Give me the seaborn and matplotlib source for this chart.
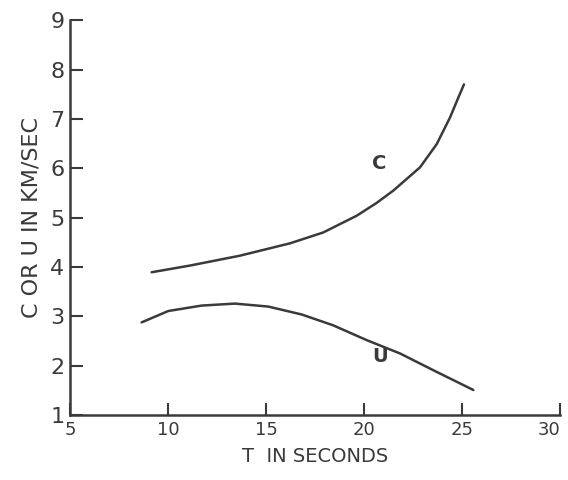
import matplotlib
matplotlib.use("Agg")
import matplotlib.pyplot as plt
import seaborn as sns
import pandas as pd

# Phase velocity C and group velocity U vs period T
c_period = [9.17, 11.12, 13.67, 16.22, 17.92, 19.63, 20.65, 21.50, 22.86, 23.71, 24.39, 24.81, 25.10]
c_speed = [3.895, 4.03, 4.23, 4.48, 4.70, 5.04, 5.30, 5.55, 6.02, 6.49, 7.03, 7.43, 7.70]

u_period = [8.66, 10.02, 11.72, 13.42, 15.12, 16.82, 18.43, 20.14, 21.84, 23.54, 25.58]
u_speed = [2.88, 3.11, 3.22, 3.26, 3.20, 3.04, 2.82, 2.52, 2.25, 1.91, 1.51]

x_ticks = [5, 10, 15, 20, 25, 30]
x_tick_labels = ["5", "10", "15", "20", "25", "30"]
y_ticks = [1, 2, 3, 4, 5, 6, 7, 8, 9]
y_tick_labels = ["1", "2", "3", "4", "5", "6", "7", "8", "9"]

sns.set_theme(style="ticks")
plt.rcParams["font.family"] = ["DejaVu Sans"]

ink = "#3a3a3a"

c_df = pd.DataFrame({"T": c_period, "V": c_speed})
u_df = pd.DataFrame({"T": u_period, "V": u_speed})

fig = plt.figure(figsize=(5.68, 4.8), dpi=100)
ax = fig.add_axes([0.123, 0.135, 0.863, 0.823])

sns.lineplot(data=c_df, x="T", y="V", ax=ax, color=ink, linewidth=1.8)
sns.lineplot(data=u_df, x="T", y="V", ax=ax, color=ink, linewidth=1.8)

ax.set_xlim(5, 30)
ax.set_ylim(1, 9)
ax.set_xticks(x_ticks)
ax.set_xticklabels(x_tick_labels, fontsize=13, color=ink)
ax.set_yticks(y_ticks)
ax.set_yticklabels(y_tick_labels, fontsize=16, color=ink)
ax.tick_params(axis="both", direction="in", length=9, width=1.5, color=ink)
ax.tick_params(axis="x", pad=4)
ax.tick_params(axis="y", pad=4)
ax.get_xticklabels()[-1].set_horizontalalignment("right")
ax.get_xticklabels()[-1].set_x(30)

for side in ["top", "right"]:
    ax.spines[side].set_visible(False)
for side in ["left", "bottom"]:
    ax.spines[side].set_color(ink)
    ax.spines[side].set_linewidth(1.8)

ax.set_xlabel("T  IN SECONDS", fontsize=14, color=ink, labelpad=6)
ax.set_ylabel("C OR U IN KM/SEC", fontsize=16, color=ink, labelpad=6)

ax.text(20.8, 6.1, "C", fontsize=14, fontweight="bold", color=ink, ha="center", va="center")
ax.text(20.8, 2.18, "U", fontsize=14, fontweight="bold", color=ink, ha="center", va="center")

ax.set_facecolor("white")
fig.patch.set_facecolor("white")
fig.savefig("out.png", dpi=100)
